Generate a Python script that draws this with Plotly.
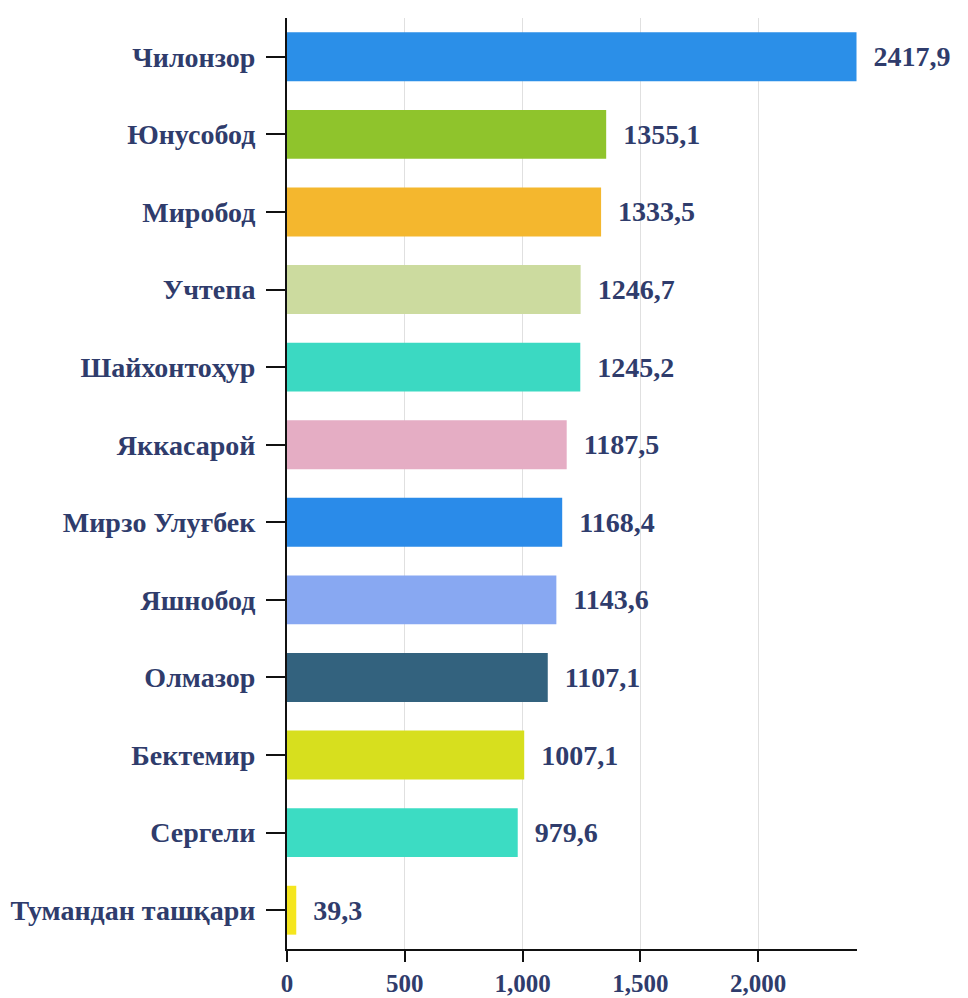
import plotly.graph_objects as go

categories = ["Чилонзор", "Юнусобод", "Миробод", "Учтепа", "Шайхонтоҳур",
              "Яккасарой", "Мирзо Улуғбек", "Яшнобод", "Олмазор", "Бектемир",
              "Сергели", "Тумандан ташқари"]
values = [2417.9, 1355.1, 1333.5, 1246.7, 1245.2, 1187.5, 1168.4, 1143.6,
          1107.1, 1007.1, 979.6, 39.3]
colors = ["#2b8fe8", "#8fc42c", "#f4b72e", "#ccdb9f", "#3bd9c2", "#e5adc4",
          "#2a8be9", "#88a8f2", "#33627e", "#d7df1e", "#3cdcc3", "#f5e61e"]
tick_vals = [0, 500, 1000, 1500, 2000]
tick_text = ["0", "500", "1,000", "1,500", "2,000"]

labels = ["  " + f"{v:.1f}".replace(".", ",") for v in values]

text_color = "#2f3c6c"
font_family = "Liberation Serif, Times New Roman, serif"

fig = go.Figure(go.Bar(
    x=values, y=categories, orientation="h",
    marker=dict(color=colors, line=dict(width=0)),
    text=labels, textposition="outside", cliponaxis=False,
    textfont=dict(family=font_family, size=28, color=text_color, weight="bold"),
    hoverinfo="skip",
))

fig.update_layout(
    width=960, height=990,
    margin=dict(l=279, r=111, t=10, b=49),
    plot_bgcolor="white", paper_bgcolor="white",
    bargap=0.37, showlegend=False,
    font=dict(family=font_family, color=text_color),
)
fig.update_xaxes(
    range=[0, 2420], tickvals=tick_vals, ticktext=tick_text,
    showgrid=True, gridcolor="#e0e0e0", gridwidth=1,
    showline=True, linecolor="#111111", linewidth=2,
    ticks="outside", ticklen=11, tickwidth=2, tickcolor="#111111",
    tickfont=dict(family=font_family, size=25, color=text_color, weight="bold"),
    zeroline=False, automargin=False, fixedrange=True,
)
fig.update_yaxes(
    autorange="reversed", showgrid=False,
    showline=True, linecolor="#111111", linewidth=2,
    ticks="outside", ticklen=19, tickwidth=2, tickcolor="#111111",
    ticklabelstandoff=5,
    tickfont=dict(family=font_family, size=28, color=text_color, weight="bold"),
    automargin=False, fixedrange=True,
)

fig.write_html("out.html")
